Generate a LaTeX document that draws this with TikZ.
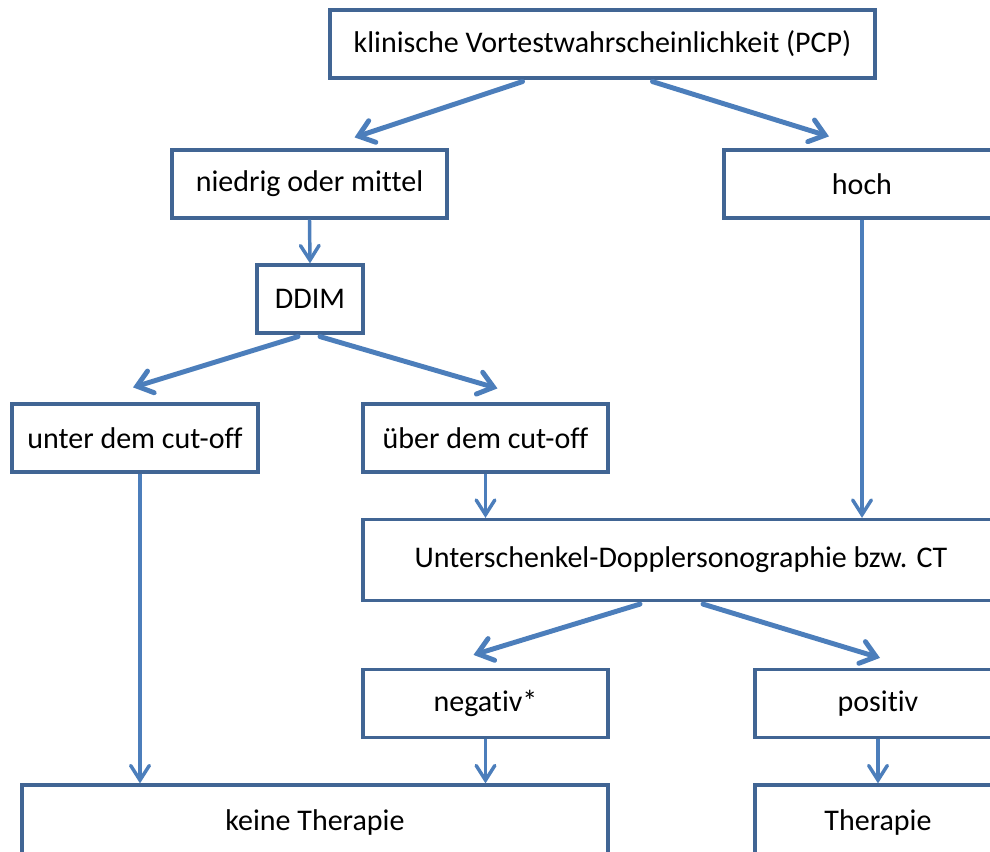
\documentclass[tikz,border=0pt]{standalone}
\usepackage{fontspec}
\setmainfont{Carlito}[Ligatures=NoCommon]
\usepackage{xcolor}
\usepackage{tikz}
\usetikzlibrary{arrows.meta,calc,positioning}
\definecolor{boxblue}{HTML}{416594}
\definecolor{arrblue}{HTML}{4C7EBB}
\tikzset{box/.style={draw=boxblue,line width=2.4pt,fill=white,inner sep=0pt,
           minimum height=51pt,font=\fontsize{22.5}{26}\selectfont},
         vec/.style={arrblue,line width=3.7pt,line cap=round,
           -{Straight Barb[length=11pt,width=17pt,line cap=round]}},
         thinvec/.style={arrblue,line width=2.6pt,
           -{Straight Barb[length=11pt,width=14pt,line cap=round]}}}

\begin{document}
\begin{tikzpicture}[x=0.75pt,y=-0.75pt]
\useasboundingbox (0,0) rectangle (990,852);
\clip (0,0) rectangle (990,852);
% boxes, coordinates in pixels of the reference
\node[box,minimum width=408.75pt] (pcp) at (602.5,44) {klinische Vortestwahrscheinlichkeit (PCP)};
\node[box,minimum width=206.25pt] (niedrig) at (309.5,184) {niedrig oder mittel};
\node[box,minimum width=207pt] (hoch) at (862,184) {hoch};
\node[box,minimum width=79.5pt] (ddim) at (310,299) {DDIM};
\node[box,minimum width=184.5pt] (unter) at (135,438) {unter dem cut-off};
\node[box,minimum width=183.75pt] (ueber) at (485.5,438) {über dem cut-off};
\node[box,minimum width=477pt,minimum height=60.75pt] (doppler) at (681,560) {Unterschenkel-Dopplersonographie bzw. CT};
\node[box,minimum width=183.75pt] (negativ) at (485.5,703.5) {negativ*};
\node[box,minimum width=184.5pt] (positiv) at (878,703.5) {positiv};
\node[box,minimum width=439.5pt,minimum height=55.5pt] (keine) at (315,822) {keine Therapie};
\node[box,minimum width=184.5pt,minimum height=55.5pt] (therapie) at (878,822) {Therapie};
% branching arrows
\draw[vec] ($(pcp.south)+(-80,2)$) -- ($(niedrig.north)+(45,-11)$);
\draw[vec] ($(pcp.south)+(50,2)$) -- ($(hoch.north)+(-33,-12)$);
\draw[vec] ($(ddim.south)+(-12,2)$) -- ($(unter.north)+(-2,-15)$);
\draw[vec] ($(ddim.south)+(10,2)$) -- ($(ueber.north)+(12,-14)$);
\draw[vec] ($(doppler.south)+(-41,2)$) -- ($(negativ.north)+(-12,-13)$);
\draw[vec] ($(doppler.south)+(22,2)$) -- ($(positiv.north)+(2,-10)$);
% straight arrows
\coordinate (u1) at ($(unter.south)+(5,0)$);
\draw[thinvec] (niedrig.south) -- (ddim.north);
\draw[thinvec] (u1) -- (u1 |- keine.north);
\draw[thinvec] (ueber.south) -- (ueber.south |- doppler.north);
\draw[thinvec] (hoch.south) -- (hoch.south |- doppler.north);
\draw[thinvec] (negativ.south) -- (negativ.south |- keine.north);
\draw[thinvec] (positiv.south) -- (therapie.north);
\end{tikzpicture}
\end{document}
